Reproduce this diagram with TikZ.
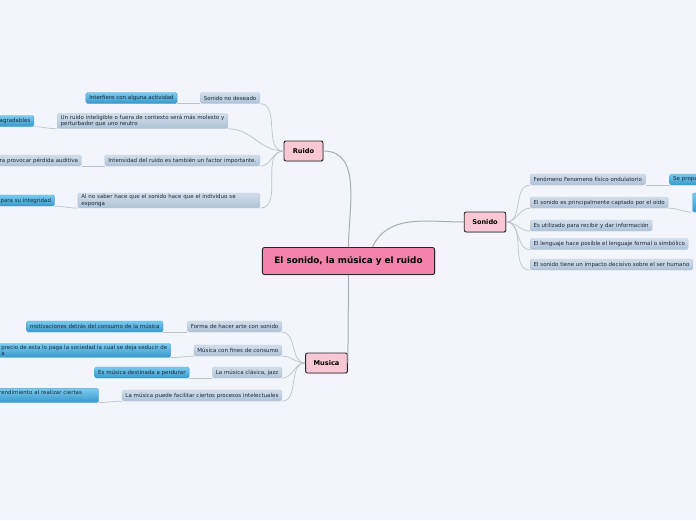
\documentclass[tikz,border=0pt]{standalone}
\usepackage{fontspec}
\setmainfont{DejaVu Sans}
\usetikzlibrary{positioning,shadows}

\definecolor{bg}{HTML}{F2F5FC}
\definecolor{rootpink}{HTML}{F383AD}
\definecolor{mainpink}{HTML}{FAC7D5}
\definecolor{subtop}{HTML}{D2DEEB}
\definecolor{subbot}{HTML}{AEC2D6}
\definecolor{subedge}{HTML}{BCCADA}
\definecolor{leaftop}{HTML}{7ACAEE}
\definecolor{leafbot}{HTML}{3698CC}
\definecolor{leafedge}{HTML}{45A5D4}
\definecolor{ink}{HTML}{1E2B38}
\definecolor{linkgrey}{HTML}{BEC3CB}
\definecolor{trunkgrey}{HTML}{A9AEB6}

\begin{document}
\begin{tikzpicture}[x=1pt, y=-1pt,
        central/.style={draw=black!85, line width=0.9pt, rounded corners=2pt, fill=rootpink, font=\fontsize{8.8}{10}\selectfont\bfseries, minimum height=27pt, inner xsep=12pt, drop shadow={opacity=0.3, shadow xshift=0.8pt, shadow yshift=-0.8pt}},
        main/.style={draw=black!85, line width=0.9pt, rounded corners=2pt, fill=mainpink, font=\fontsize{6.6}{8}\selectfont\bfseries, minimum height=20pt, minimum width=39pt, inner xsep=8pt, drop shadow={opacity=0.3, shadow xshift=0.8pt, shadow yshift=-0.8pt}},
        sub/.style={rounded corners=1.5pt, top color=subtop, bottom color=subbot, draw=subedge, line width=0.3pt, font=\fontsize{5.5}{6.6}\selectfont, text=ink, minimum height=11pt, inner xsep=3.5pt, inner ysep=1.5pt},
        leaf/.style={sub, top color=leaftop, bottom color=leafbot, draw=leafedge},
        link/.style={draw=linkgrey, line width=0.7pt},
        trunk/.style={draw=trunkgrey, line width=1pt}]

        \useasboundingbox (0,0) rectangle (696,520);
        \fill[bg] (0,0) rectangle (696,520);
        \clip (0,0) rectangle (696,520);

        \node[central] (M) at (348.5,261) {El sonido, la música y el ruido};

        \node[main] (R) at (303.5,151) {Ruido};
        \node[main] (S) at (485,222) {Sonido};
        \node[main] (Mu) at (326.5,363) {Musica};

        \node[sub, anchor=east] (R1) at (260,98) {Sonido no deseado};
        \node[leaf, left=23pt of R1] (R1a) {Interfiere con alguna actividad};
        \node[sub, anchor=east, align=left] (R2) at (228,121) {Un ruido inteligible o fuera de contexto será más molesto y\\perturbador que uno neutro};
        \node[leaf, left=23pt of R2] (R2a) {agradables};
        \node[sub, anchor=east] (R3) at (260,160.5) {Intensidad del ruido es también un factor importante.};
        \node[sub, left=23pt of R3] (R3a) {ra provocar pérdida auditiva};
        \node[sub, anchor=east, text width=175pt, align=left] (R4) at (260,200.5) {Al no saber hace que el sonido hace que el individuo se\\exponga};
        \node[leaf, left=23pt of R4] (R4a) {para su integridad};

        \node[sub, anchor=west] (S1) at (530,179.5) {Fenómeno Fenomeno físico ondulatorio};
        \node[leaf, right=24pt of S1, text width=40pt, align=left] (S1a) {Se propa};
        \node[sub, anchor=west] (S2) at (530,202.5) {El sonido es principalmente captado por el oído};
        \node[leaf, right=24pt of S2, minimum width=20pt, minimum height=19pt] (S2a) {};
        \node[sub, anchor=west] (S3) at (530,225.5) {Es utilizado para recibir y dar información};
        \node[sub, anchor=west] (S4) at (530,244) {El lenguaje hace posible el lenguaje formal o simbólico};
        \node[sub, anchor=west] (S5) at (530,264.5) {El sonido tiene un impacto decisivo sobre el ser humano};

        \node[sub, anchor=east] (Mu1) at (282,326.5) {Forma de hacer arte con sonido};
        \node[leaf, left=24pt of Mu1] (Mu1a) {motivaciones detrás del consumo de la música};
        \node[sub, anchor=east] (Mu2) at (282,350.5) {Música con fines de consumo};
        \node[leaf, left=23pt of Mu2, align=left] (Mu2a) {precio de esta lo paga la sociedad la cual se deja seducir de\\a};
        \node[sub, anchor=east] (Mu3) at (282,372.5) {La música clásica, jazz};
        \node[leaf, left=23pt of Mu3] (Mu3a) {Es música destinada a perdurar};
        \node[sub, anchor=east] (Mu4) at (282,395.5) {La música puede facilitar ciertos procesos intelectuales};
        \node[leaf, left=23pt of Mu4, text width=96pt, align=left] (Mu4a) {rendimiento al realizar ciertas\\\mbox{}};

        \path[trunk] (M.north) edge[out=90, in=0] (R.east);
        \path[trunk] ([xshift=24pt]M.north) edge[out=65, in=180] (S.west);
        \path[trunk] (M.south) edge (Mu.east);

        \path[link] (R.west) edge[out=180, in=0] (R1.south east);
        \path[link] (R.west) edge[out=180, in=0] (R2.south east);
        \path[link] (R.west) edge[out=180, in=0] (R3.south east);
        \path[link] (R.west) edge[out=180, in=0] (R4.south east);
        \path[link] (R1.south west) edge[out=180, in=0] (R1a.south east);
        \path[link] (R2.south west) edge[out=180, in=0] (R2a.south east);
        \path[link] (R3.south west) edge[out=180, in=0] (R3a.south east);
        \path[link] (R4.south west) edge[out=180, in=0] (R4a.south east);

        \path[link] (S.east) edge[out=0, in=180] (S1.south west);
        \path[link] (S.east) edge[out=0, in=180] (S2.south west);
        \path[link] (S.east) edge[out=0, in=180] (S3.south west);
        \path[link] (S.east) edge[out=0, in=180] (S4.south west);
        \path[link] (S.east) edge[out=0, in=180] (S5.south west);
        \path[link] (S1.south east) edge[out=0, in=180] (S1a.south west);
        \path[link] (S2.south east) edge[out=0, in=180] (S2a.south west);

        \path[link] (Mu.west) edge[out=180, in=0] (Mu1.south east);
        \path[link] (Mu.west) edge[out=180, in=0] (Mu2.south east);
        \path[link] (Mu.west) edge[out=180, in=0] (Mu3.south east);
        \path[link] (Mu.west) edge[out=180, in=0] (Mu4.south east);
        \path[link] (Mu1.south west) edge[out=180, in=0] (Mu1a.south east);
        \path[link] (Mu2.south west) edge[out=180, in=0] (Mu2a.south east);
        \path[link] (Mu3.south west) edge[out=180, in=0] (Mu3a.south east);
        \path[link] (Mu4.south west) edge[out=180, in=0] (Mu4a.south east);

    \end{tikzpicture}
\end{document}
